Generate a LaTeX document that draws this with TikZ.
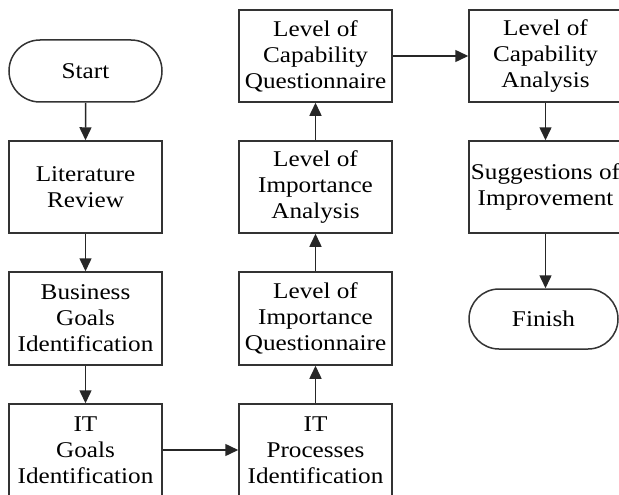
\documentclass[tikz,border=0pt]{standalone}
\usepackage{fontspec}
\setmainfont[FakeStretch=1.12]{Liberation Serif}
\usetikzlibrary{shapes.misc,arrows.meta}
\begin{document}
\begin{tikzpicture}[x=1pt,y=-1pt,
  txt/.style={font=\fontsize{22.5}{26}\selectfont, text=black, align=center, inner sep=0pt},
  box/.style={txt, draw=black!80, line width=1.5pt, rectangle, minimum width=153pt, minimum height=92pt},
  pill/.style={txt, draw=black!80, line width=1.5pt, rounded rectangle, minimum width=153pt, minimum height=62pt},
  arr/.style={draw=black!85, line width=1.5pt, -{Triangle[width=12pt,length=13pt]}}]
\useasboundingbox (0,0) rectangle (619,495);
\clip (0,0) rectangle (619,495);
\fill[white] (0,0) rectangle (619,495);

\node[pill] (start) at (85.5,71) {Start};
\node[box] (lit) at (85.5,187) {Literature\\Review};
\node[box, minimum height=93pt] (bg) at (85.5,318.5) {Business\\Goals\\Identification};
\node[box] (itg) at (85.5,450) {IT\\Goals\\Identification};

\node[box] (itp) at (315.5,450) {IT\\Processes\\Identification};
\node[box, minimum height=93pt] (liq) at (315.5,318.5) {Level of\\Importance\\Questionnaire};
\node[box] (lia) at (315.5,187) {Level of\\Importance\\Analysis};
\node[box] (lcq) at (315.5,56) {Level of\\Capability\\Questionnaire};

\node[box] (lca) at (545.5,56) {Level of\\Capability\\Analysis};
\node[box] (sug) at (545.5,187) {Suggestions of\\Improvement};
\node[pill, minimum width=149pt, minimum height=60pt] (fin) at (543.5,319) {Finish};

\draw[arr] (start) -- (lit);
\draw[arr] (lit) -- (bg);
\draw[arr] (bg) -- (itg);
\draw[arr] (itg) -- (itp);
\draw[arr] (itp) -- (liq);
\draw[arr] (liq) -- (lia);
\draw[arr] (lia) -- (lcq);
\draw[arr] (lcq) -- (lca);
\draw[arr] (lca) -- (sug);
\draw[arr] (sug.south) -- (sug.south|-fin.north);
\end{tikzpicture}
\end{document}
